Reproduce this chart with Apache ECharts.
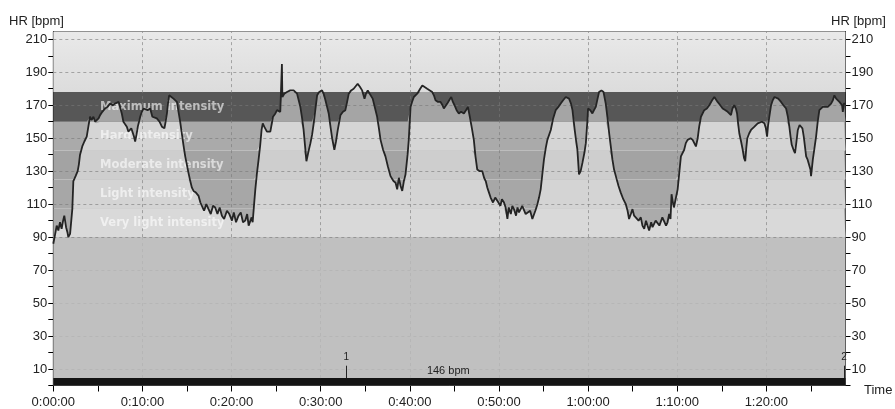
<!DOCTYPE html>
<html><head><meta charset="utf-8">
<script src="https://cdn.jsdelivr.net/npm/echarts@6/dist/echarts.min.js"></script>
<style>html,body{margin:0;padding:0;background:#fff}#c{width:895px;height:409px}</style>
</head><body><div id="c"></div>
<script>
// time in seconds
const times = [0,7,15,23,34,45,56,66,74,86,95,101,113,120,128,135,150,164,172,180,195,209,225,236,247,258,270,282,293,305,315,330,349,365,382,400,415,427,440,450,461,472,485,495,505,517,525,534,543,551,560,569,585,596,607,618,635,652,667,680,697,715,731,748,756,765,772,780,795,809,820,832,843,854,865,876,888,899,910,922,933,944,960,978,990,1000,1015,1030,1045,1060,1075,1090,1105,1120,1135,1150,1169,1185,1203,1215,1230,1247,1262,1277,1292,1305,1315,1326,1335,1342,1350,1360,1370,1382,1393,1402,1410,1420,1438,1461,1479,1495,1506,1528,1536,1539,1542,1555,1573,1595,1618,1641,1652,1663,1675,1685,1695,1704,1718,1731,1742,1753,1765,1776,1790,1809,1820,1832,1843,1854,1866,1877,1892,1903,1915,1925,1933,1950,1966,1978,1989,2005,2022,2035,2049,2065,2079,2095,2105,2117,2130,2140,2150,2162,2180,2192,2203,2220,2236,2252,2270,2290,2304,2315,2326,2338,2349,2360,2371,2385,2393,2405,2415,2427,2440,2450,2470,2484,2500,2517,2535,2551,2562,2573,2590,2607,2620,2629,2640,2652,2665,2679,2690,2701,2715,2730,2745,2764,2778,2791,2804,2818,2831,2842,2854,2870,2888,2900,2911,2922,2933,2944,2960,2975,2989,3010,3020,3034,3045,3057,3066,3080,3090,3101,3115,3125,3135,3146,3157,3169,3180,3191,3210,3225,3236,3245,3259,3270,3281,3292,3303,3315,3326,3349,3365,3382,3400,3416,3432,3450,3462,3472,3485,3495,3510,3520,3528,3539,3550,3562,3575,3585,3595,3600,3615,3629,3640,3652,3664,3674,3690,3704,3719,3730,3742,3753,3764,3775,3787,3805,3820,3837,3854,3866,3876,3888,3899,3910,3921,3940,3955,3966,3978,3990,4000,4011,4025,4034,4045,4055,4068,4080,4090,4100,4112,4125,4135,4146,4155,4162,4169,4178,4191,4203,4215,4225,4247,4258,4270,4290,4304,4315,4326,4338,4348,4360,4382,4400,4416,4435,4450,4460,4472,4490,4506,4525,4540,4550,4562,4572,4584,4595,4603,4610,4618,4630,4641,4650,4658,4665,4672,4685,4697,4708,4720,4731,4742,4753,4770,4787,4797,4805,4812,4820,4832,4843,4855,4865,4880,4899,4915,4933,4945,4955,4963,4971,4983,4993,5003,5012,5024,5034,5043,5052,5060,5068,5078,5090,5097,5101,5106,5113,5124,5135,5146,5157,5168,5180,5197,5214,5225,5236,5248,5258,5270,5281,5292,5303,5310,5315,5322,5333];
const hr = [86,85,93,97,94,99,95,100,103,96,93,90,92,91,107,124,127,130,134,140,145,148,151,157,163,161,163,160,159,162,164,166,168,169,171,170,171,170,172,171,165,160,159,157,154,153,156,156,151,148,152,157,163,166,168,168,167,168,163,163,162,160,157,156,160,165,171,176,175,174,173,172,166,160,153,146,139,134,129,124,120,118,117,115,111,110,106,110,107,104,109,108,104,108,103,101,106,104,100,105,99,103,105,99,100,104,97,98,102,99,108,119,128,137,146,155,159,157,154,154,163,165,167,166,166,195,175,177,178,179,179,177,173,169,162,155,145,136,142,147,152,159,168,176,178,179,177,173,169,165,157,150,143,148,155,160,164,166,167,172,177,179,180,181,183,181,179,174,177,179,177,176,174,173,163,156,149,143,139,133,127,124,123,119,126,121,118,124,128,140,149,169,172,175,176,177,180,182,181,180,179,178,176,173,172,172,170,168,169,171,173,175,172,170,167,165,166,165,167,169,163,156,149,139,131,130,130,126,124,120,117,114,111,114,112,109,113,111,108,101,108,104,109,107,103,108,105,105,109,110,104,103,106,101,102,106,110,114,119,128,137,144,149,155,162,167,169,171,173,175,175,174,171,167,155,148,143,128,130,135,141,147,160,168,167,165,167,169,174,178,179,178,171,163,153,145,137,131,127,121,117,113,110,106,101,104,107,103,104,100,102,97,95,100,97,94,99,96,95,100,101,97,98,102,103,97,99,104,101,116,112,108,108,119,130,139,143,147,149,150,149,147,145,150,157,163,167,168,170,173,175,174,172,170,168,167,166,165,164,168,170,168,165,159,153,148,143,138,136,144,150,153,155,156,157,158,159,160,160,159,156,151,158,163,170,173,175,175,174,172,170,168,163,157,151,146,143,141,148,155,158,159,156,151,145,139,137,136,131,127,131,137,144,151,160,167,168,169,169,169,170,171,173,176,174,173,172,173,170,166,171,171];
const zoneEdges = [90, 107.5, 125, 142.5, 160, 178];
const zoneNames = ['Very light intensity', 'Light intensity', 'Moderate intensity', 'Hard intensity', 'Maximum intensity'];
const yLabelValues = [10, 30, 50, 70, 90, 110, 130, 150, 170, 190, 210];
const yTickValues = [0,10,20,30,40,50,60,70,80,90,100,110,120,130,140,150,160,170,180,190,200,210];
const xGridValues = [600,1200,1800,2400,3000,3600,4200,4800];
const lapTimes = [1973, 5323];
const lapNames = ['1', '2'];
const avgLabel = '146 bpm';
const avgPos = [2659, 8.8];
const xMax = 5333, yMax = 214.6, barTop = 4.5;

const data = times.map((t, i) => [t, hr[i]]);
const fmt = v => { const h = Math.floor(v/3600), m = Math.floor((v%3600)/60), s = v%60; return h + ':' + String(m).padStart(2,'0') + ':' + String(s).padStart(2,'0'); };

// colours: zone colour above the curve / below the curve
const zoneAbove = ['#ababab', '#a7a7a7', '#a3a3a3', '#aaaaaa', '#575757'];
const zoneBelow = ['#d9d9d9', '#d4d4d4', '#cecece', '#d5d5d5', '#a5a5a5'];
const bandAreas = [
  [{yAxis: 0, itemStyle: {color: '#c0c0c0'}}, {yAxis: zoneEdges[0]}],
  ...zoneNames.map((n, i) => [{yAxis: zoneEdges[i], itemStyle: {color: zoneAbove[i]}}, {yAxis: zoneEdges[i+1]}]),
  [{yAxis: zoneEdges[5], itemStyle: {color: new echarts.graphic.LinearGradient(0,0,0,1,[{offset:0,color:'#e9e9e9'},{offset:1,color:'#dcdcdc'}])}}, {yAxis: yMax}],
  [{yAxis: 0, itemStyle: {color: '#141414'}}, {yAxis: barTop}]
];
const labelAreas = zoneNames.map((n, i) => [{xAxis: 315, yAxis: zoneEdges[i], name: n}, {xAxis: xMax, yAxis: zoneEdges[i+1]}]);
const zoneFillSeries = zoneNames.map((n, i) => ({
  type: 'line', z: 2, silent: true, showSymbol: false, lineStyle: {width: 0},
  data: data.map(([t, v]) => [t, Math.min(Math.max(v, zoneEdges[i]), zoneEdges[i+1])]),
  areaStyle: {origin: zoneEdges[i], color: zoneBelow[i], opacity: 1}
}));

const gridStrong = {color: 'rgba(120,120,120,0.6)', type: [3, 3], width: 1};
const gridFaint = {color: 'rgba(170,170,170,0.45)', type: [3, 3], width: 1};
const gridLines = [];
yLabelValues.forEach(v => gridLines.push({yAxis: v, lineStyle: v < zoneEdges[0] ? gridFaint : gridStrong}));
xGridValues.forEach(v => {
  gridLines.push([{coord: [v, zoneEdges[0]], lineStyle: gridStrong}, {coord: [v, yMax]}]);
  gridLines.push([{coord: [v, barTop], lineStyle: gridFaint}, {coord: [v, zoneEdges[0]]}]);
});

const axisFont = {fontFamily: 'Liberation Sans, Arial, sans-serif', fontSize: 13, color: '#222'};
const yAxisCommon = {
  type: 'value', min: 0, max: yMax,
  axisLine: {show: true, lineStyle: {color: '#000', width: 1}},
  axisTick: {show: true, length: 5, customValues: yTickValues, lineStyle: {color: '#000'}},
  axisLabel: Object.assign({customValues: yLabelValues, margin: 6}, axisFont),
  splitLine: {show: false}
};

const chart = echarts.init(document.getElementById('c'), null, {renderer: 'canvas'});
chart.setOption({
  animation: false,
  backgroundColor: '#fff',
  grid: {left: 53.3, right: 49.5, top: 31.7, bottom: 23.5, show: true, borderColor: '#555', borderWidth: 1, backgroundColor: 'transparent'},
  xAxis: {
    type: 'value', min: 0, max: xMax, interval: 300,
    axisLine: {show: true, onZero: false, lineStyle: {color: '#000'}},
    axisTick: {show: true, length: 6, lineStyle: {color: '#000'}},
    axisLabel: Object.assign({margin: 10, showMaxLabel: false, formatter: v => (v % 600 === 0 ? fmt(v) : '')}, axisFont),
    splitLine: {show: false}
  },
  yAxis: [Object.assign({position: 'left'}, yAxisCommon), Object.assign({position: 'right'}, yAxisCommon)],
  graphic: [
    {type: 'text', left: 9, top: 15, style: {text: 'HR [bpm]', font: '13px "Liberation Sans", Arial, sans-serif', fill: '#222'}},
    {type: 'text', left: 831, top: 15, style: {text: 'HR [bpm]', font: '13px "Liberation Sans", Arial, sans-serif', fill: '#222'}},
    {type: 'text', left: 864, top: 384, style: {text: 'Time', font: '13px "Liberation Sans", Arial, sans-serif', fill: '#222'}}
  ],
  series: [
    {type: 'line', data: [], z: 1, silent: true,
     markArea: {silent: true, z: 1, data: bandAreas}},
    ...zoneFillSeries,
    {type: 'line', data: [], z: 3, silent: true,
     markLine: {silent: true, z: 3, symbol: 'none', label: {show: false}, data: gridLines}},
    {type: 'line', data: [], z: 4, silent: true,
     markArea: {silent: true, z: 4, itemStyle: {color: 'transparent'},
       label: {show: true, position: 'insideLeft', distance: 0, color: 'rgba(255,255,255,0.6)', fontFamily: 'DejaVu Sans', fontWeight: 'bold', fontSize: 11.5},
       data: labelAreas}},
    {type: 'line', data: data, z: 5, silent: true, showSymbol: false, lineStyle: {color: '#242424', width: 1.8}},
    {type: 'line', data: [], z: 6, silent: true,
     markLine: {silent: true, z: 6, symbol: 'none',
       lineStyle: {color: '#222', type: 'solid', width: 1},
       label: {show: true, position: 'end', color: '#222', fontSize: 10, fontFamily: 'Liberation Sans, Arial', distance: 3},
       data: lapTimes.map((t, i) => [{coord: [t, barTop], name: lapNames[i]}, {coord: [t, 12]}]).map(p => { p[0].label = {formatter: p[0].name}; return p; })},
     markPoint: {silent: true, z: 6, symbol: 'circle', symbolSize: 0,
       label: {show: true, color: '#222', fontSize: 11, fontFamily: 'Liberation Sans, Arial', formatter: avgLabel},
       data: [{coord: avgPos}]}}
  ]
});
</script></body></html>
